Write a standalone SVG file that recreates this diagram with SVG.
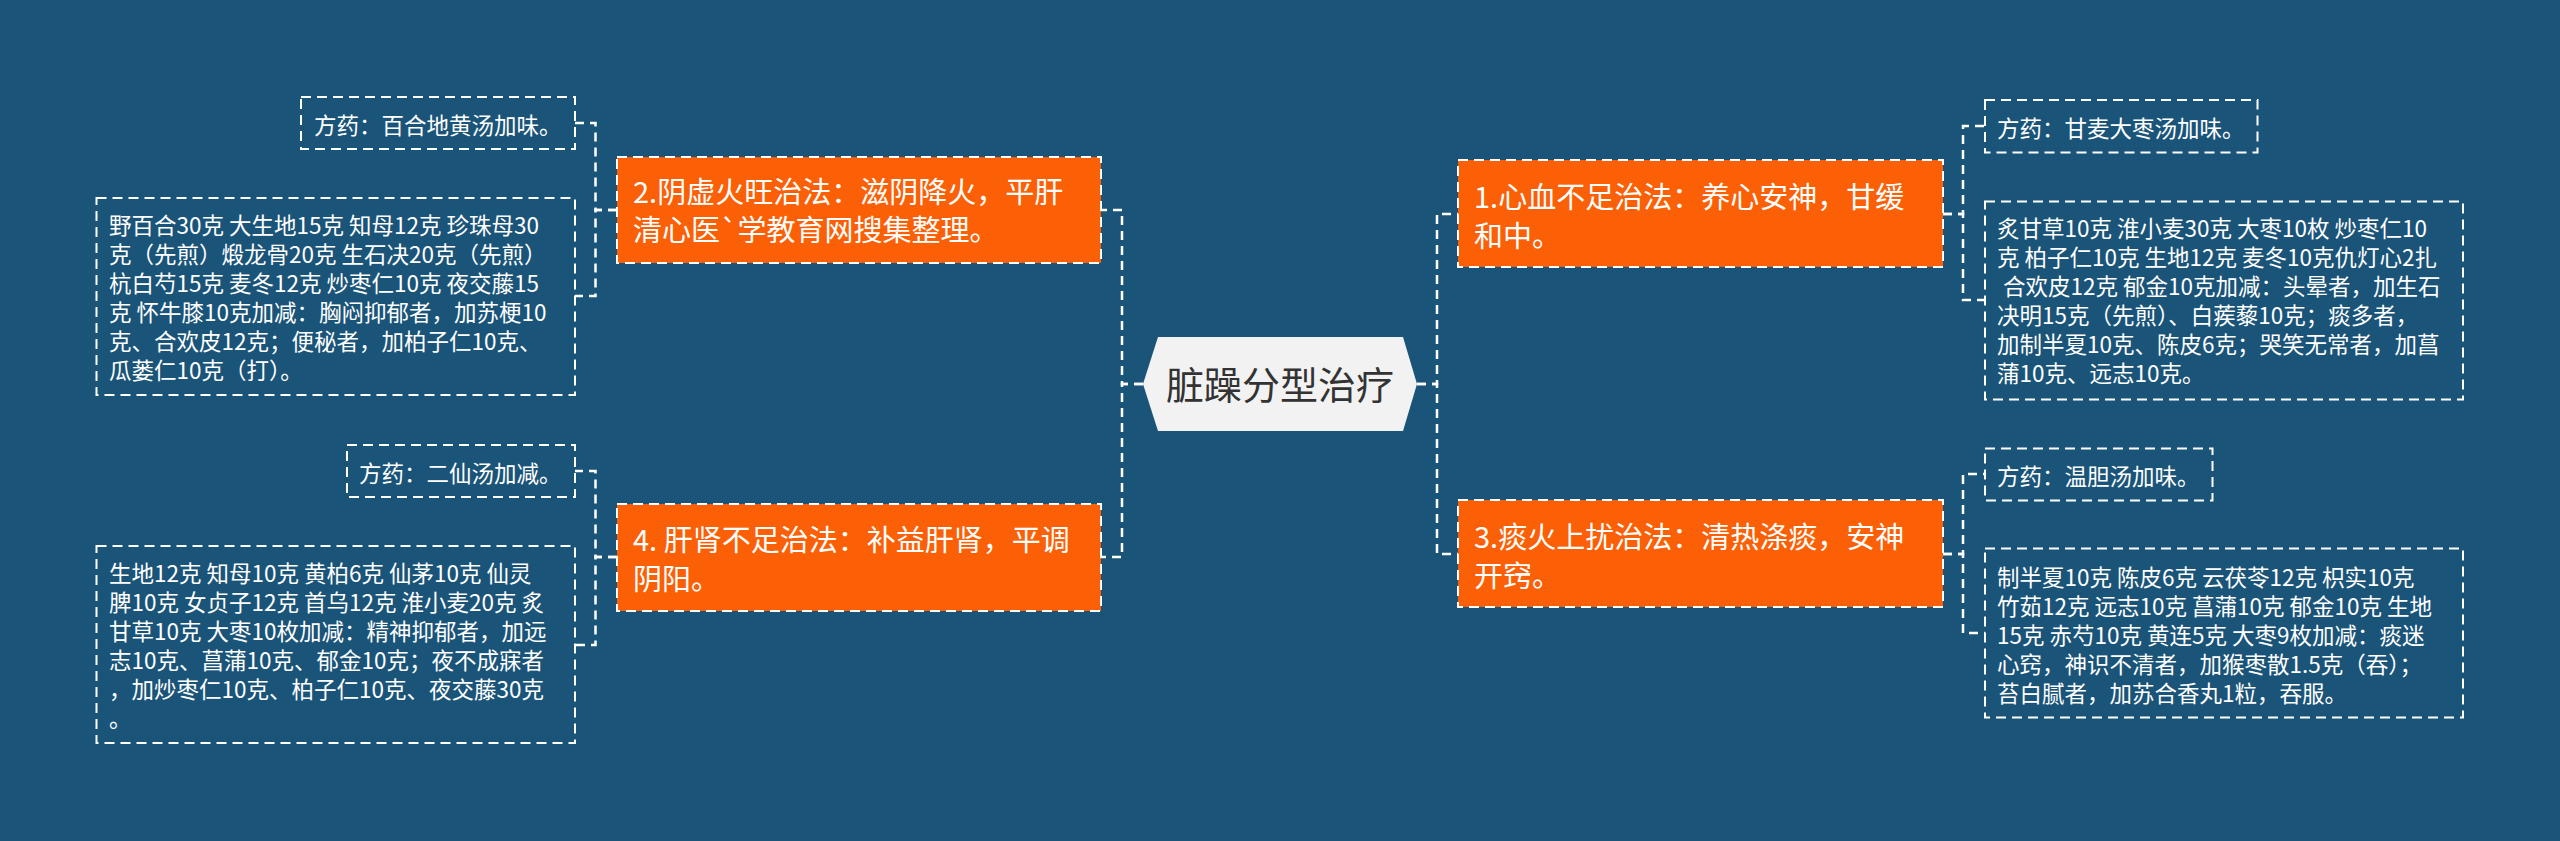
<svg xmlns="http://www.w3.org/2000/svg" width="2560" height="841" viewBox="0 0 2560 841">
<style>
.bg{fill:#1b5479}
.conn{fill:none;stroke:#ffffff;stroke-width:2.5;stroke-dasharray:9 6}
.main{fill:#fb6006;stroke:#ffffff;stroke-width:2;stroke-dasharray:10 6}
.leaf{fill:none;stroke:#ffffff;stroke-width:2;stroke-dasharray:10 6}
.t{font-family:"Noto Sans CJK SC","Noto Sans",sans-serif;fill:#ffffff}
.mt{font-size:29px}
.lt{font-size:22.5px}
.ct{font-family:"Noto Sans CJK SC","Noto Sans",sans-serif;font-size:38px;fill:#333333}
</style>
<rect class="bg" x="0" y="0" width="2560" height="841"/>
<g id="connectors">
<path class="conn" d="M1143 384 H1122 V210 H1101"/>
<path class="conn" d="M1143 384 H1122 V557 H1101"/>
<path class="conn" d="M1417 384 H1437 V214 H1458"/>
<path class="conn" d="M1417 384 H1437 V554 H1458"/>
<path class="conn" d="M617 210 H595.5 V123 H575"/>
<path class="conn" d="M617 210 H595.5 V296 H575"/>
<path class="conn" d="M617 557 H595.5 V471 H575"/>
<path class="conn" d="M617 557 H595.5 V645 H575"/>
<path class="conn" d="M1943 214 H1963 V126 H1985"/>
<path class="conn" d="M1943 214 H1963 V300 H1985"/>
<path class="conn" d="M1943 554 H1963 V474 H1985"/>
<path class="conn" d="M1943 554 H1963 V633 H1985"/>
</g>
<g id="root">
<polygon points="1143,384 1158,337 1403,337 1417,384 1403,431 1158,431" fill="#f2f2f2"/>
<text class="ct" x="1280" y="399" text-anchor="middle">脏躁分型治疗</text>
</g>
<g id="n2">
<rect class="main" x="617" y="157" width="484" height="106"/>
<text class="t mt" x="633" y="203">2.阴虚火旺治法：滋阴降火，平肝</text>
<text class="t mt" x="633" y="241">清心医`学教育网搜集整理。</text>
</g>
<g id="n2a">
<rect class="leaf" x="301" y="97" width="274" height="52"/>
<text class="t lt" x="314" y="134">方药：百合地黄汤加味。</text>
</g>
<g id="n2b">
<rect class="leaf" x="96.5" y="198" width="478.5" height="197"/>
<text class="t lt" x="109" y="234">野百合30克 大生地15克 知母12克 珍珠母30</text>
<text class="t lt" x="109" y="263">克（先煎）煅龙骨20克 生石决20克（先煎）</text>
<text class="t lt" x="109" y="292">杭白芍15克 麦冬12克 炒枣仁10克 夜交藤15</text>
<text class="t lt" x="109" y="321">克 怀牛膝10克加减：胸闷抑郁者，加苏梗10</text>
<text class="t lt" x="109" y="350">克、合欢皮12克；便秘者，加柏子仁10克、</text>
<text class="t lt" x="109" y="379">瓜蒌仁10克（打）。</text>
</g>
<g id="n4">
<rect class="main" x="617" y="504" width="484" height="107"/>
<text class="t mt" x="633" y="551">4. 肝肾不足治法：补益肝肾，平调</text>
<text class="t mt" x="633" y="590">阴阳。</text>
</g>
<g id="n4a">
<rect class="leaf" x="347" y="445" width="228" height="52"/>
<text class="t lt" x="359" y="482">方药：二仙汤加减。</text>
</g>
<g id="n4b">
<rect class="leaf" x="96.5" y="546" width="478.5" height="197"/>
<text class="t lt" x="109" y="582">生地12克 知母10克 黄柏6克 仙茅10克 仙灵</text>
<text class="t lt" x="109" y="611">脾10克 女贞子12克 首乌12克 淮小麦20克 炙</text>
<text class="t lt" x="109" y="640">甘草10克 大枣10枚加减：精神抑郁者，加远</text>
<text class="t lt" x="109" y="669">志10克、菖蒲10克、郁金10克；夜不成寐者</text>
<text class="t lt" x="109" y="698">，加炒枣仁10克、柏子仁10克、夜交藤30克</text>
<text class="t lt" x="109" y="727">。</text>
</g>
<g id="n1">
<rect class="main" x="1458" y="160" width="485" height="107"/>
<text class="t mt" x="1474" y="208">1.心血不足治法：养心安神，甘缓</text>
<text class="t mt" x="1474" y="247">和中。</text>
</g>
<g id="n1a">
<rect class="leaf" x="1985" y="100" width="272.5" height="52.5"/>
<text class="t lt" x="1997" y="137">方药：甘麦大枣汤加味。</text>
</g>
<g id="n1b">
<rect class="leaf" x="1985" y="201.5" width="478" height="198"/>
<text class="t lt" x="1997" y="237">炙甘草10克 淮小麦30克 大枣10枚 炒枣仁10</text>
<text class="t lt" x="1997" y="266">克 柏子仁10克 生地12克 麦冬10克仇灯心2扎</text>
<text class="t lt" x="2003" y="295">合欢皮12克 郁金10克加减：头晕者，加生石</text>
<text class="t lt" x="1997" y="324">决明15克（先煎）、白蒺藜10克；痰多者，</text>
<text class="t lt" x="1997" y="353">加制半夏10克、陈皮6克；哭笑无常者，加菖</text>
<text class="t lt" x="1997" y="382">蒲10克、远志10克。</text>
</g>
<g id="n3">
<rect class="main" x="1458" y="500" width="485" height="107"/>
<text class="t mt" x="1474" y="548">3.痰火上扰治法：清热涤痰，安神</text>
<text class="t mt" x="1474" y="587">开窍。</text>
</g>
<g id="n3a">
<rect class="leaf" x="1985" y="448.5" width="227.5" height="52"/>
<text class="t lt" x="1997" y="485">方药：温胆汤加味。</text>
</g>
<g id="n3b">
<rect class="leaf" x="1985" y="548.5" width="478" height="169"/>
<text class="t lt" x="1997" y="586">制半夏10克 陈皮6克 云茯苓12克 枳实10克</text>
<text class="t lt" x="1997" y="615">竹茹12克 远志10克 菖蒲10克 郁金10克 生地</text>
<text class="t lt" x="1997" y="644">15克 赤芍10克 黄连5克 大枣9枚加减：痰迷</text>
<text class="t lt" x="1997" y="673">心窍，神识不清者，加猴枣散1.5克（吞）；</text>
<text class="t lt" x="1997" y="702">苔白腻者，加苏合香丸1粒，吞服。</text>
</g>
</svg>
